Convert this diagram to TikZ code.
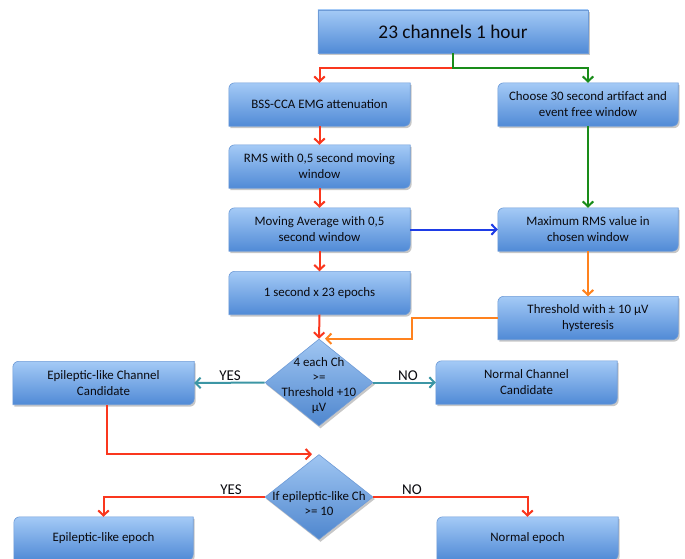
\documentclass[tikz,border=0pt]{standalone}
\usepackage{fontspec}
\setmainfont{Carlito}
\usetikzlibrary{arrows.meta,shapes.geometric,calc}
\definecolor{cred}{RGB}{250,55,30}
\definecolor{cgreen}{RGB}{25,140,25}
\definecolor{cblue}{RGB}{30,60,230}
\definecolor{corange}{RGB}{255,130,30}
\definecolor{cteal}{RGB}{60,150,165}
\definecolor{btop}{RGB}{164,202,246}
\definecolor{bbot}{RGB}{80,138,214}
\definecolor{bline}{RGB}{110,155,215}
\definecolor{dtop}{RGB}{160,198,242}
\definecolor{dbot}{RGB}{78,134,206}
\definecolor{txt}{RGB}{10,10,15}
\pgfdeclarelayer{bg}
\pgfsetlayers{bg,main}
\tikzset{
  boxnode/.style={minimum width=181pt, minimum height=43pt, inner sep=2pt, align=center,
    font=\fontsize{12.9}{16}\selectfont, text=txt},
  boxfill/.style={top color=btop, bottom color=bbot, draw=bline, line width=0.6pt},
  shadowc/.style={fill=black, opacity=0.22},
  flow/.style={line width=2pt, -{Straight Barb[length=5pt,width=10.5pt]}},
  lbl/.style={font=\fontsize{15}{17}\selectfont, inner sep=0pt, text=txt},
  diam/.style={shape=diamond, draw=bline, line width=0.6pt, top color=dtop, bottom color=dbot,
    minimum width=108pt, minimum height=87pt, inner sep=0pt},
  dtext/.style={font=\fontsize{12.9}{15}\selectfont, align=center, text=txt, inner sep=0pt}
}
\newcommand\rdbox[1]{%
  \fill[shadowc] ([shift={(1.5pt,-2pt)}]#1.south west) -- ([shift={(1.5pt,-8pt)}]#1.north west)
     arc[start angle=180,end angle=90,radius=6pt] -- ([shift={(1.5pt,-2pt)}]#1.north east)
     -- ([shift={(1.5pt,4pt)}]#1.south east) arc[start angle=0,end angle=-90,radius=6pt] -- cycle;
  \path[boxfill] (#1.south west) -- ([yshift=-6pt]#1.north west)
     arc[start angle=180,end angle=90,radius=6pt] -- (#1.north east)
     -- ([yshift=6pt]#1.south east) arc[start angle=0,end angle=-90,radius=6pt] -- cycle;
}
\begin{document}
\begin{tikzpicture}[x=1pt,y=-1pt]
\useasboundingbox (0,0) rectangle (685,558);
% nodes
\node[boxnode, minimum width=270pt, font=\fontsize{19.3}{23}\selectfont] (top) at (453,31.5) {23 channels 1 hour};
\node[boxnode] (bss) at (319.5,104.5) {BSS-CCA EMG attenuation};
\node[boxnode, minimum width=180pt] (choose) at (588,104.5) {Choose 30 second artifact and\\event free window};
\node[boxnode] (rms) at (319.5,166.5) {RMS with 0,5 second moving\\window};
\node[boxnode] (mavg) at (319.5,229.5) {Moving Average with 0,5\\second window};
\node[boxnode] (sec) at (319.5,293) {1 second x 23 epochs};
\node[boxnode, minimum width=180pt] (maxrms) at (588,229.5) {Maximum RMS value in\\chosen window};
\node[boxnode, minimum width=180pt] (thr) at (588,318) {Threshold with ± 10 µV\\hysteresis};
\node[diam] (d1) at (319,382.5) {};
\node[dtext] (d1t) at (319,385.5) {4 each Ch\\>=\\Threshold +10\\µV};
\node[boxnode] (epc) at (103.5,383) {Epileptic-like Channel\\Candidate};
\node[boxnode] (ncc) at (526.5,382.5) {Normal Channel\\Candidate};
\node[diam, minimum height=85pt] (d2) at (319,497) {};
\node[dtext] (d2t) at (319,504) {If epileptic-like Ch\\>= 10};
\node[boxnode, minimum width=179pt] (epe) at (103.5,538.5) {Epileptic-like epoch};
\node[boxnode] (ne) at (527.5,538.5) {Normal epoch};
\node[lbl] (yes1) at (230,376) {YES};
\node[lbl] (no1) at (408,376) {NO};
\node[lbl] (yes2) at (231,490) {YES};
\node[lbl] (no2) at (412,490) {NO};
% connectors
\coordinate (split) at (453,68);
\coordinate (ox) at (412,0);
\draw[flow,cred] (split) -| (bss.north);
\draw[flow,cgreen] (top.south) -- (split) -| (choose.north);
\draw[flow,cred] (bss.south) -- (rms.north);
\draw[flow,cred] (rms.south) -- (mavg.north);
\draw[flow,cred] (mavg.south) -- (sec.north);
\draw[flow,cred] (sec.south) -- (d1.north);
\draw[flow,cgreen] (choose.south) -- (maxrms.north);
\draw[flow,cblue] (mavg.east) -- (maxrms.west);
\draw[flow,corange] (maxrms.south) -- (thr.north);
\draw[flow,corange] (thr.west) -- (thr.west -| ox) |- ([xshift=6pt]d1.north);
\draw[flow,cteal] (d1.west) -- (epc.east);
\draw[flow,cteal] (d1.east) -- (ncc.west);
\draw[flow,cred] ([xshift=3.5pt]epc.south) |- ([xshift=-7pt]d2.north);
\draw[flow,cred] (d2.west) -| (epe.north);
\draw[flow,cred] (d2.east) -| (ne.north);
% backgrounds
\begin{pgfonlayer}{bg}
\fill[shadowc] ([shift={(1.5pt,-2pt)}]top.south west) rectangle ([shift={(1.5pt,-2pt)}]top.north east);
\path[boxfill] (top.south west) rectangle (top.north east);
\foreach \n in {bss,choose,rms,mavg,sec,maxrms,thr,epc,ncc,epe,ne}{\rdbox{\n}}
\fill[shadowc] ([shift={(1.5pt,-2pt)}]d1.north) -- ([shift={(1.5pt,-2pt)}]d1.east) -- ([shift={(1.5pt,-2pt)}]d1.south) -- ([shift={(1.5pt,-2pt)}]d1.west) -- cycle;
\fill[shadowc] ([shift={(1.5pt,-2pt)}]d2.north) -- ([shift={(1.5pt,-2pt)}]d2.east) -- ([shift={(1.5pt,-2pt)}]d2.south) -- ([shift={(1.5pt,-2pt)}]d2.west) -- cycle;
\end{pgfonlayer}
\end{tikzpicture}
\end{document}
